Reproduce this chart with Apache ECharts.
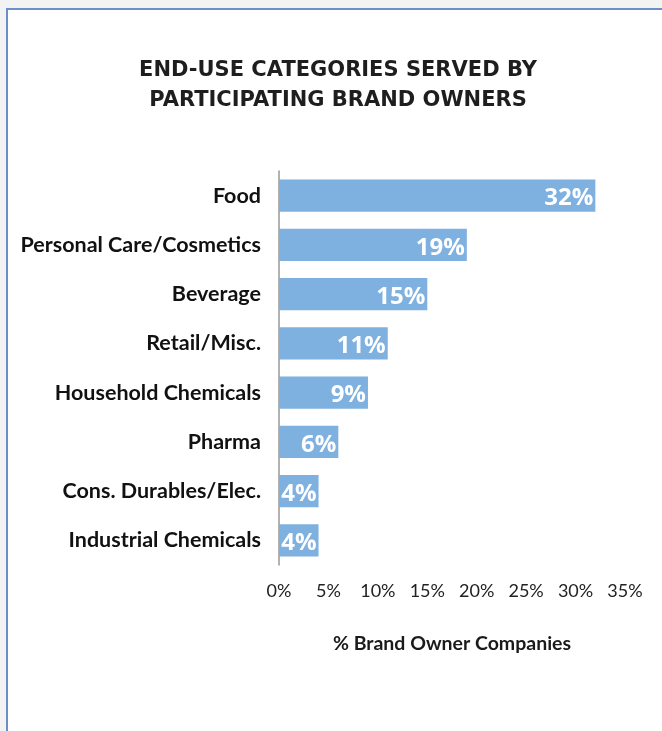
<!DOCTYPE html>
<html>
<head>
<meta charset="utf-8">
<script src="https://cdn.jsdelivr.net/npm/echarts@6/dist/echarts.min.js"></script>
<style>
  html, body { margin: 0; padding: 0; background: #f3f3f3; }
  #chart { width: 662px; height: 731px; }
</style>
</head>
<body>
<div id="chart"></div>
<script>
// End-use categories, listed top to bottom
const categories = [
  'Food',
  'Personal Care/Cosmetics',
  'Beverage',
  'Retail/Misc.',
  'Household Chemicals',
  'Pharma',
  'Cons. Durables/Elec.',
  'Industrial Chemicals'
];
// Share of brand owner companies (%)
const shares = [32, 19, 15, 11, 9, 6, 4, 4];
// X-axis ticks (%)
const xTicks = [0, 5, 10, 15, 20, 25, 30, 35];

const chart = echarts.init(document.getElementById('chart'), null, { renderer: 'canvas' });

const labelFont = 'Lato, "Open Sans", "Noto Sans", sans-serif';

chart.setOption({
  backgroundColor: '#f3f3f3',
  animation: false,
  graphic: [
    {
      type: 'rect',
      z: -10,
      shape: { x: 7, y: 9, width: 700, height: 760 },
      style: { fill: '#ffffff', stroke: '#6c8ec9', lineWidth: 2 }
    }
  ],
  title: {
    text: 'END-USE CATEGORIES SERVED BY\nPARTICIPATING BRAND OWNERS',
    left: 333,
    top: 51,
    textAlign: 'center',
    textStyle: {
      fontFamily: '"DejaVu Sans", sans-serif',
      fontSize: 21,
      fontWeight: 'bold',
      color: '#1e1e1e',
      lineHeight: 30
    }
  },
  grid: {
    left: 279,
    right: 37,
    top: 171,
    height: 394,
    containLabel: false
  },
  xAxis: {
    type: 'value',
    min: xTicks[0],
    max: xTicks[xTicks.length - 1],
    interval: 5,
    splitLine: { show: false },
    axisLine: { show: false },
    axisTick: { show: false },
    axisLabel: {
      formatter: v => v + '%',
      margin: 17,
      fontFamily: labelFont,
      fontSize: 18,
      color: '#222'
    },
    name: '% Brand Owner Companies',
    nameLocation: 'middle',
    nameGap: 69,
    nameTextStyle: {
      fontFamily: labelFont,
      fontSize: 19.5,
      fontWeight: 'bold',
      color: '#1a1a1a'
    }
  },
  yAxis: {
    type: 'category',
    data: categories,
    inverse: true,
    axisLine: { show: true, lineStyle: { color: '#999999', width: 1.5 } },
    axisTick: { show: false },
    axisLabel: {
      margin: 18,
      fontFamily: labelFont,
      fontSize: 21.5,
      fontWeight: 'bold',
      color: '#111',
      padding: [5, 0, 0, 0]
    }
  },
  series: [
    {
      type: 'bar',
      data: shares,
      barCategoryGap: '35%',
      itemStyle: { color: '#7eb0e0' },
      label: {
        show: true,
        position: 'insideRight',
        offset: [3, 3],
        formatter: p => p.value + '%',
        fontFamily: '"Open Sans", sans-serif',
        fontSize: 24,
        fontWeight: 'bold',
        color: '#ffffff'
      }
    }
  ]
});
</script>
</body>
</html>
